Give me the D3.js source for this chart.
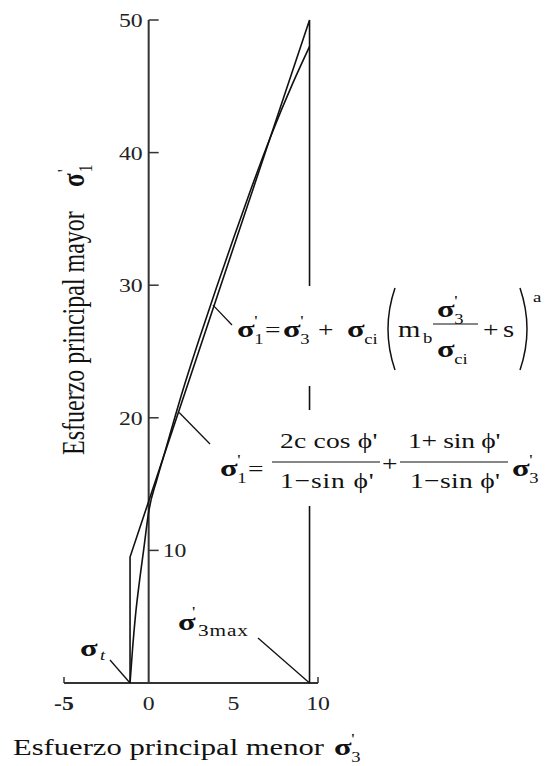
<!DOCTYPE html>
<html>
<head>
<meta charset="utf-8">
<script src="https://d3js.org/d3.v7.min.js"></script>
<style>
  body { margin: 0; background: #fff; }
</style>
</head>
<body>
<svg width="545" height="766"></svg>
<script>
// tick labels
var xTicks = [-5, 0, 5, 10];
var yTicks = [10, 20, 30, 40, 50];

// tensile strength and max confining stress
var sigmaT = -1.1, sigma3max = 9.5;

// Mohr-Coulomb envelope (with tension cut-off), sigma3 / sigma1
var mcS3 = [-1.1, -1.1, 9.5, 9.5];
var mcS1 = [0, 9.5, 50, 0];

// Hoek-Brown curve
var hbS3 = [-1.1, -0.95, -0.77, -0.55, -0.3, 0, 0.5, 1, 2, 3, 4, 5, 6, 7.2, 8.5, 9.5];
var hbS1 = [0, 2.6, 5.2, 7.6, 10.0, 12.9, 15.4, 17.6, 22.0, 26.0, 29.8, 33.5, 37.1, 41.2, 45.2, 48];

var serif = "'Liberation Serif'";
var SX = 1.25;   // the scan is stretched sideways, so is the lettering
var svg = d3.select("svg");

var x = d3.scaleLinear().domain([-5, 10]).range([64, 318]);
var y = d3.scaleLinear().domain([0, 50]).range([683, 20]);

var line = d3.line().x(function(d) { return x(d[0]); }).y(function(d) { return y(d[1]); });

// y axis (ticks to the right)
svg.append("line").attr("x1", x(0)).attr("x2", x(0)).attr("y1", y(0)).attr("y2", y(50))
    .style("stroke", "#333").style("stroke-width", 2);
svg.selectAll(".ytick").data(yTicks).enter().append("line")
    .attr("x1", x(0)).attr("x2", x(0) + 10)
    .attr("y1", function(d) { return y(d); }).attr("y2", function(d) { return y(d); })
    .style("stroke", "#333").style("stroke-width", 1.5);
svg.selectAll(".ylab").data(yTicks).enter().append("text")
    .attr("transform", function(d) {
      return "translate(" + (d == 10 ? x(0) + 14 : x(0) - 6) + "," + (y(d) + 7) + ") scale(" + SX + ",1)";
    })
    .attr("text-anchor", function(d) { return d == 10 ? "start" : "end"; })
    .style("font-family", serif).style("font-size", "19px").style("fill", "#222")
    .text(function(d) { return d; });

// x axis
svg.append("line").attr("x1", x(-5)).attr("x2", x(10)).attr("y1", y(0)).attr("y2", y(0))
    .style("stroke", "#333").style("stroke-width", 2);
svg.selectAll(".xtick").data([-5, 10]).enter().append("line")
    .attr("x1", function(d) { return x(d); }).attr("x2", function(d) { return x(d); })
    .attr("y1", y(0)).attr("y2", y(0) - 6)
    .style("stroke", "#333").style("stroke-width", 1.5);
svg.selectAll(".xlab").data(xTicks).enter().append("text")
    .attr("transform", function(d) { return "translate(" + x(d) + "," + (y(0) + 27) + ") scale(" + SX + ",1)"; })
    .attr("text-anchor", "middle")
    .style("font-family", serif).style("font-size", "19px").style("fill", "#222")
    .style("font-weight", function(d) { return d < 0 ? "bold" : "normal"; })
    .text(function(d) { return d; });

// envelopes
svg.append("path").datum(d3.zip(mcS3, mcS1))
    .attr("d", line)
    .style("fill", "none").style("stroke", "#111").style("stroke-width", 1.6);
svg.append("path").datum(d3.zip(hbS3, hbS1))
    .attr("d", line.curve(d3.curveMonotoneX))
    .style("fill", "none").style("stroke", "#111").style("stroke-width", 1.6);

// helpers for the formula text
var ann = svg.append("g");
function t(px, py, s, size, sx) {
  return ann.append("text")
      .attr("transform", "translate(" + px + "," + py + ") scale(" + (sx || SX) + ",1)")
      .style("font-family", serif).style("font-size", size + "px").style("fill", "#111").text(s);
}
// sigma with prime above and index below
function sig(px, py, idx, size) {
  t(px, py, "σ", size, 1.35).style("font-weight", "bold");
  var w = size * 0.72;
  if (idx[0]) t(px + w, py - size * 0.45, "'", size * 0.62);
  if (idx[1]) t(px + w, py + 7, idx[1], size * 0.62);
}
function lead(x1, y1, x2, y2) {
  ann.append("line").attr("x1", x1).attr("y1", y1).attr("x2", x2).attr("y2", y2)
      .style("stroke", "#111").style("stroke-width", 1.3);
}
function paren(d) {
  ann.append("path").attr("d", d).style("fill", "none").style("stroke", "#111").style("stroke-width", 1.5);
}
function bar(x1, x2, yy) {
  ann.append("line").attr("x1", x1).attr("x2", x2).attr("y1", yy).attr("y2", yy)
      .style("stroke", "#111").style("stroke-width", 1.2);
}

// Hoek-Brown formula
ann.append("rect").attr("x", 232).attr("y", 286).attr("width", 313).attr("height", 100).style("fill", "#fff");
lead(x(3.8), y(28.5), 232, 325);
var b1 = 337;
sig(237, b1, [1, "1"], 24);
t(265, b1, "=", 22);
sig(283, b1, [1, "3"], 24);
t(318, b1, "+", 22);
sig(347, b1, [0, "ci"], 24);
paren("M395,288 Q381,329 395,370");
t(398, b1, "m", 23);
t(423, b1 + 6, "b", 15);
sig(437, 317, [1, "3"], 24);
bar(433, 478, 324);
sig(437, 357, [0, "ci"], 24);
t(483, b1, "+", 22);
t(503, b1, "s", 23);
paren("M520,288 Q534,329 520,370");
t(533, 302, "a", 15);

// Mohr-Coulomb formula
ann.append("rect").attr("x", 215).attr("y", 410).attr("width", 330).attr("height", 96).style("fill", "#fff");
lead(x(1.8), y(20.4), 210, 444);
var b2 = 476;
sig(220, b2, [1, "1"], 24);
t(248, b2, "=", 22);
t(280, 448, "2c cos ϕ'", 22).attr("textLength", 78);
bar(272, 380, 462);
t(280, 488, "1−sin ϕ'", 22).attr("textLength", 75);
t(382, b2 - 5, "+", 22);
t(408, 448, "1+ sin ϕ'", 22).attr("textLength", 74);
bar(400, 508, 462);
t(410, 488, "1−sin ϕ'", 22).attr("textLength", 72);
sig(512, b2, [1, "3"], 24);

// tension and sigma3max labels
t(80, 656, "σ", 24, 1.35).style("font-weight", "bold");
t(100, 660, "t", 15).style("font-style", "italic");
lead(110, 660, x(sigmaT), y(0));
t(178, 630, "σ", 24, 1.35).style("font-weight", "bold");
t(192, 617, "'", 15);
t(198, 636, "3max", 17).attr("textLength", 40);
lead(258, 638, x(sigma3max), y(0));

// axis titles
t(13, 755, "Esfuerzo principal menor", 23, 1).attr("textLength", 311).attr("lengthAdjust", "spacingAndGlyphs");
sig(334, 755, [1, "3"], 24);

var yt = svg.append("g").attr("transform", "translate(84,455) scale(1.3,1) rotate(-90)");
yt.append("text").attr("x", 0).attr("y", 0)
    .style("font-family", serif).style("font-size", "24px").style("fill", "#111")
    .text("Esfuerzo principal mayor");
yt.append("text").attr("x", 268).attr("y", 0)
    .style("font-family", serif).style("font-size", "25px").style("font-weight", "bold").style("fill", "#111")
    .text("σ");
yt.append("text").attr("x", 283).attr("y", -10)
    .style("font-family", serif).style("font-size", "15px").style("fill", "#111").text("'");
yt.append("text").attr("x", 283).attr("y", 6)
    .style("font-family", serif).style("font-size", "15px").style("fill", "#111").text("1");
</script>
</body>
</html>
